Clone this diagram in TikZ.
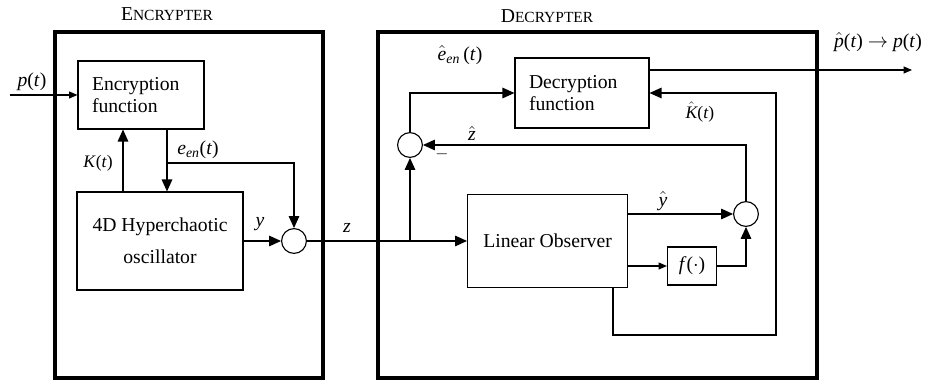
\documentclass[tikz,border=0pt]{standalone}
\usepackage{amsmath}
\usepackage{fontspec}
\setmainfont{Liberation Serif}
\usetikzlibrary{arrows.meta, positioning, calc}

\begin{document}
\begin{tikzpicture}[
    blk/.style={draw, line width=0.8pt, inner sep=0pt, font=\fontsize{14}{16}\selectfont},
    sumpt/.style={draw, circle, line width=0.8pt, minimum size=0.62cm, inner sep=0pt},
    unit/.style={draw, line width=2.4pt},
    sig/.style={line width=0.8pt},
    arr/.style={sig, -{Triangle[length=8.5pt, width=7.5pt]}},
    sarr/.style={sig, -{Triangle[length=6pt, width=5pt]}},
    lbl/.style={font=\fontsize{14}{16}\selectfont, inner sep=1pt},
    slbl/.style={font=\fontsize{12.5}{14}\selectfont, inner sep=1pt},
    ttl/.style={font=\fontsize{11}{13}\selectfont}
]
    \useasboundingbox (0,0) rectangle (23.175,9.65);

    % the two units
    \draw[unit] (1.375,0.2) rectangle (8.075,8.85);
    \draw[unit] (9.45,0.2) rectangle (20.425,8.85);
    \node[ttl] (enctitle) at (4.175,9.3) {{\fontsize{14}{16}\selectfont E}NCRYPTER};
    \node[ttl] (dectitle) at (13.675,9.25) {{\fontsize{14}{16}\selectfont D}ECRYPTER};

    % encrypter blocks
    \node[blk, minimum width=3.15cm, minimum height=1.7cm, text width=2.45cm, inner xsep=0.35cm, align=left]
        (encfun) at (3.525,7.275) {Encryption\\function};
    \node[blk, minimum width=4.15cm, minimum height=2.45cm, align=center]
        (chaos) at (4.0,3.625) {4D Hyperchaotic\\[7pt]oscillator};
    \node[sumpt] (sumenc) at (7.35,3.625) {};

    % decrypter blocks
    \node[blk, minimum width=3.35cm, minimum height=1.75cm, text width=2.65cm, inner xsep=0.35cm, align=left]
        (decfun) at (14.55,7.325) {Decryption\\function};
    \node[blk, minimum width=4.0cm, minimum height=2.325cm]
        (observer) at (13.69,3.625) {Linear Observer};
    \node[blk, minimum width=1.225cm, minimum height=0.95cm]
        (fblk) at (17.3,3.0) {\textit{f}($\cdot$)};
    \node[sumpt] (sumz) at (10.25,6.025) {};
    \node[sumpt] (sumy) at (18.65,4.3) {};

    % free ends and taps
    \coordinate (pin) at (0.25,7.275);
    \coordinate (pout) at (22.8,7.9);
    \coordinate (ktap) at (3.075,0);
    \coordinate (etap) at (4.175,5.575);
    \coordinate (otap) at (15.325,0);
    \coordinate (kloop) at (19.4,1.275);

    % encrypter signals
    \draw[sarr] (pin) -- (encfun);
    \node[lbl] (plbl) at (0.8,7.6) {\textit{p}(\textit{t})};
    \draw[arr] (ktap |- chaos.north) -- (ktap |- encfun.south);
    \node[slbl] (klbl) at (2.45,5.575) {\textit{K}(\textit{t})};
    \draw[arr] (etap |- encfun.south) -- (etap |- chaos.north);
    \draw[arr] (etap) -| (sumenc.north);
    \node[lbl] (elbl) at (4.95,5.9) {\textit{e}\textsubscript{\textit{en}}(\textit{t})};
    \draw[arr] (chaos.east |- sumenc) -- (sumenc.west);
    \node[lbl] (ylbl) at (6.5,4.05) {\textit{y}};

    % transmitted signal
    \draw[arr] (sumenc.east) -- (observer.west);
    \node[lbl] (zlbl) at (8.675,3.95) {\textit{z}};

    % decrypter signals
    \draw[arr] (sumz |- observer.west) -- (sumz.south);
    \draw[arr] (sumz.north) |- (decfun.west);
    \node[lbl] (ehatlbl) at (11.5,8.275) {$\hat{\textit{e}}$\textsubscript{\textit{en}}\,(\textit{t})};
    \draw[arr] (observer.east |- sumy) -- (sumy.west);
    \node[lbl] (yhatlbl) at (16.575,4.62) {$\hat{\textit{y}}$};
    \draw[sarr] (observer.east |- fblk) -- (fblk.west);
    \draw[arr] (fblk.east) -| (sumy.south);
    \draw[arr] (sumy.north) |- (sumz.east);
    \node[lbl] (zhatlbl) at (11.8,6.32) {$\hat{\textit{z}}$};
    \node[slbl] (minus) at (11.05,5.8) {$-$};
    \draw[arr] (otap |- observer.south) |- (kloop) |- (decfun.east);
    \node[slbl] (khatlbl) at (17.5,6.85) {$\hat{\textit{K}}$(\textit{t})};
    \draw[sarr] (decfun.east |- pout) -- (pout);
    \node[lbl] (poutlbl) at (21.95,8.6) {$\hat{\textit{p}}$(\textit{t}) $\rightarrow$ \textit{p}(\textit{t})};
\end{tikzpicture}
\end{document}
